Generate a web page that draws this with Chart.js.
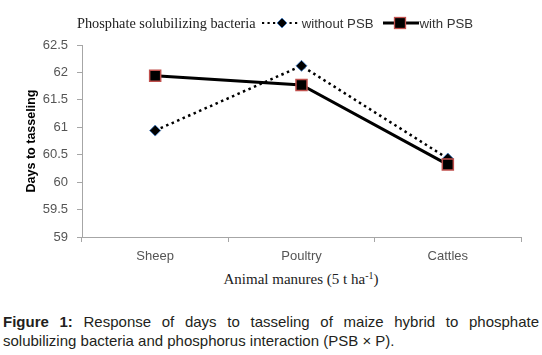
<!DOCTYPE html>
<html>
<head>
<meta charset="utf-8">
<script src="https://cdn.jsdelivr.net/npm/chart.js@4.4.0/dist/chart.umd.min.js"></script>
<style>
  html, body { margin:0; padding:0; background:#fff; }
  body { width:542px; height:355px; position:relative; overflow:hidden; }
  #wrap { position:absolute; left:0; top:0; width:542px; height:268px; }
  #legend { position:absolute; top:13px; left:77px; height:20px; white-space:nowrap; display:flex; align-items:center; }
  #legend .ttl { font-family:"Liberation Serif","Times New Roman",serif; font-size:14.3px; color:#222; }
  #legend .txt { font-family:"Liberation Sans",Arial,sans-serif; font-size:13.2px; color:#333; }
  #legend svg { display:block; }
  #xtitle { position:absolute; top:271px; left:0; width:602px; text-align:center; font-family:"Liberation Serif","Times New Roman",serif; font-size:15px; color:#222; }
  #xtitle sup { font-size:10px; vertical-align:5px; line-height:0; }
  #caption { position:absolute; top:312px; left:3px; width:536px; font-family:"Liberation Sans",Arial,sans-serif; font-size:15px; line-height:19px; color:#231f20; text-align:justify; }
</style>
</head>
<body>
<div id="wrap"><canvas id="c" width="542" height="268"></canvas></div>
<div id="legend">
  <span class="ttl">Phosphate solubilizing bacteria</span>
  <svg width="40" height="14" style="margin-left:4px"><line x1="2" y1="7" x2="38" y2="7" stroke="#000" stroke-width="2.2" stroke-dasharray="2.2,3.3"/><polygon points="22,2 27,7 22,12 17,7" fill="#000" stroke="#4f81bd" stroke-width="1"/></svg>
  <span class="txt" style="margin-left:2px">without PSB</span>
  <svg width="38" height="14" style="margin-left:8px"><line x1="1" y1="7" x2="37" y2="7" stroke="#000" stroke-width="3"/><rect x="12.5" y="1.5" width="11" height="11" fill="#000" stroke="#c0504d" stroke-width="1.3"/></svg>
  <span class="txt">with PSB</span>
</div>
<div id="xtitle">Animal manures (5 t ha<sup>-1</sup>)</div>
<div id="caption"><b>Figure 1:</b> Response of days to tasseling of maize hybrid to phosphate solubilizing bacteria and phosphorus interaction (PSB × P).</div>
<script>
const categories = ["Sheep", "Poultry", "Cattles"];
const withoutPSB = [60.94, 62.12, 60.43];
const withPSB = [61.94, 61.77, 60.32];
const yTicks = [59, 59.5, 60, 60.5, 61, 61.5, 62, 62.5];

new Chart(document.getElementById('c'), {
  type: 'line',
  data: {
    labels: categories,
    datasets: [
      {
        label: 'with PSB', data: withPSB, order: 0,
        borderColor: '#000', borderWidth: 3, backgroundColor: '#000',
        pointStyle: 'rect', pointRadius: 7.8, pointBorderColor: '#c0504d',
        pointBackgroundColor: '#000', pointBorderWidth: 1.5, tension: 0
      },
      {
        label: 'without PSB', data: withoutPSB, order: 1,
        borderColor: '#000', borderWidth: 2.5, borderDash: [2.5, 3.5],
        pointStyle: 'rectRot', pointRadius: 5.5, pointBorderColor: '#4f81bd',
        pointBackgroundColor: '#000', pointBorderWidth: 1, tension: 0
      }
    ]
  },
  options: {
    responsive: false, animation: false,
    layout: { padding: { top: 45, right: 21, left: 0, bottom: 0 } },
    plugins: { legend: { display: false }, tooltip: { enabled: false } },
    scales: {
      x: {
        offset: true,
        grid: { offset: true, drawOnChartArea: false, color: '#a6a6a6', tickLength: 5 },
        border: { color: '#a6a6a6' },
        ticks: { color: '#555', font: { family: 'Liberation Sans', size: 13 }, padding: 7 },
        afterFit: s => { s.height = 31; }
      },
      y: {
        min: 59, max: 62.5,
        afterBuildTicks: s => { s.ticks = yTicks.map(v => ({ value: v })); },
        grid: { drawOnChartArea: false, color: '#a6a6a6', tickLength: 5 },
        border: { color: '#a6a6a6' },
        ticks: { color: '#555', font: { family: 'Liberation Sans', size: 13 }, padding: 9,
                 callback: v => String(v) },
        title: { display: true, text: 'Days to tasseling', color: '#000',
                 font: { family: 'Liberation Sans', size: 12.5, weight: 'bold' }, padding: { top: 24, bottom: 0 } },
        afterFit: s => { s.width = 82; }
      }
    }
  }
});
</script>
</body>
</html>
